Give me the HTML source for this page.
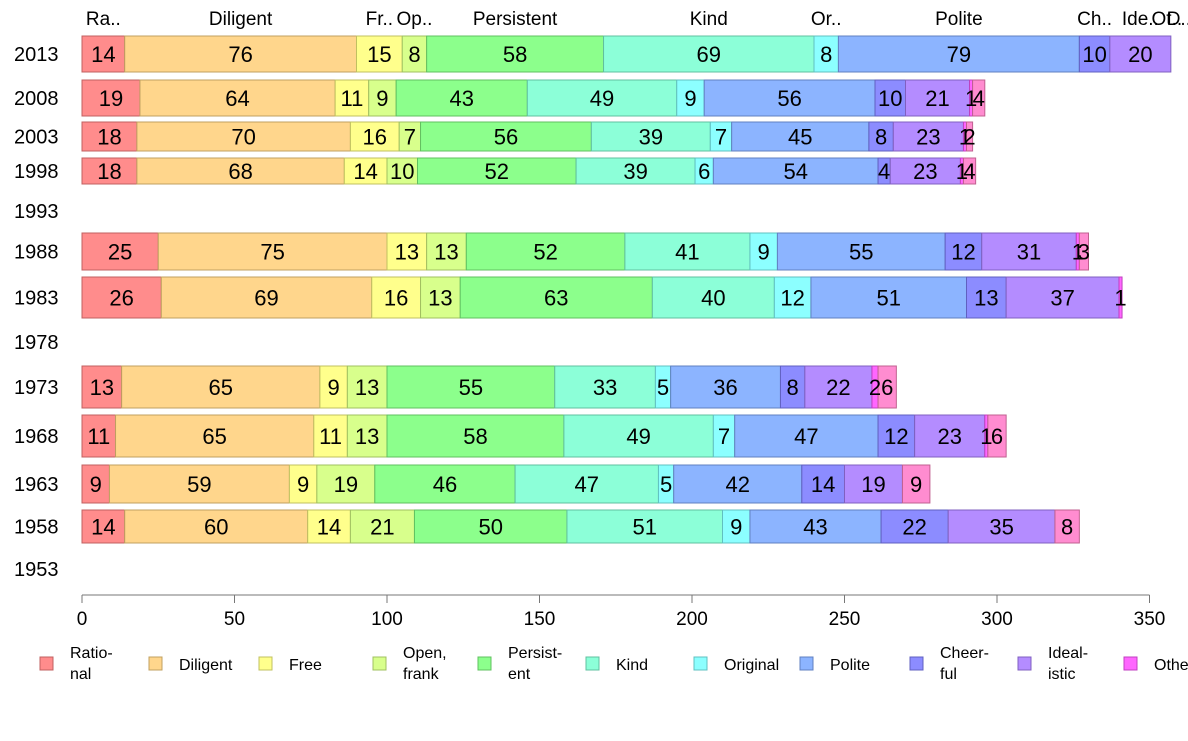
<!DOCTYPE html>
<html><head><meta charset="utf-8"><style>
body{margin:0;background:#fff;font-family:"Liberation Sans",Arial,sans-serif}
svg text{font-family:"Liberation Sans",Arial,sans-serif}
</style></head><body>
<svg id="c" width="1188" height="736"></svg>
<script>
const years=["2013","2008","2003","1998","1993","1988","1983","1978","1973","1968","1963","1958","1953"];
const categories=["Rational","Diligent","Free","Open, frank","Persistent","Kind","Original","Polite","Cheerful","Idealistic","Other","DK"];
const topLabels=["Ra..","Diligent","Fr..","Op..","Persistent","Kind","Or..","Polite","Ch..","Ide..","Ot..","D.."];
const v2013=[14,76,15,8,58,69,8,79,10,20,0,0];
const v2008=[19,64,11,9,43,49,9,56,10,21,1,4];
const v2003=[18,70,16,7,56,39,7,45,8,23,1,2];
const v1998=[18,68,14,10,52,39,6,54,4,23,1,4];
const v1993=null;
const v1988=[25,75,13,13,52,41,9,55,12,31,1,3];
const v1983=[26,69,16,13,63,40,12,51,13,37,1,0];
const v1978=null;
const v1973=[13,65,9,13,55,33,5,36,8,22,2,6];
const v1968=[11,65,11,13,58,49,7,47,12,23,1,6];
const v1963=[9,59,9,19,46,47,5,42,14,19,0,9];
const v1958=[14,60,14,21,50,51,9,43,22,35,0,8];
const v1953=null;
const seriesByYear=[v2013,v2008,v2003,v1998,v1993,v1988,v1983,v1978,v1973,v1968,v1963,v1958,v1953];
const xTicks=[0,50,100,150,200,250,300,350];

const fills=["#ff8c8c","#ffd68c","#ffff8c","#d8ff8c","#8cff8c","#8cffd8","#8cffff","#8cb4ff","#8c8cff","#b48cff","#ff66ff","#ff8cd0"];
const strokes=["#c06060","#c0a060","#c0c060","#a0c060","#60c060","#60c0a0","#60c0c0","#6080c0","#6060c0","#8060c0","#c040c0","#c06090"];
// layout: bar top/bottom per row (pixels)
const bands=[[36,72],[80,116],[122,151],[158,184],[194,228],[233,270],[277,318],[324,360],[366,408],[415,457],[465,503],[510,543],[552,586]];
const X0=82,PX=3.05;
const x=v=>X0+v*PX;
const svg=document.getElementById('c');
const NS="http://www.w3.org/2000/svg";
function mk(t,a,txt){const e=document.createElementNS(NS,t);for(const k in a)e.setAttribute(k,a[k]);if(txt!=null)e.textContent=txt;svg.appendChild(e);return e;}

years.forEach((y,i)=>{
  const [t,b]=bands[i];const cy=(t+b)/2;
  const yl=mk('text',{x:14,y:cy+7,'font-size':20,fill:'#000'},y);
  
  
  const vals=seriesByYear[i];if(!vals)return;
  let cum=0;
  vals.forEach((v,j)=>{
    const x1=x(cum),x2=x(cum+v);
    if(v>0){
      const r=mk('rect',{x:x1,y:t,width:x2-x1,height:b-t,fill:fills[j],stroke:strokes[j],'stroke-width':1});
      
      
    }
    if(i===0){
      const tl=mk('text',{x:(x1+x2)/2+(v===0?(j===10?-4:8):0),y:25,'font-size':19,'text-anchor':'middle',fill:'#000'},topLabels[j]);
      
      
    }
    cum+=v;
  });
  cum=0;
  vals.forEach((v,j)=>{
    const x1=x(cum),x2=x(cum+v);cum+=v;
    if(v<=0)return;
    const lt=mk('text',{x:(x1+x2)/2,y:cy+8,'font-size':22,'text-anchor':'middle',fill:'#000'},String(v));
    
    
  });
});

const ax=mk('line',{x1:x(0),y1:595,x2:x(350),y2:595,stroke:'#777','stroke-width':1});


xTicks.forEach(tv=>{
  const tk=mk('line',{x1:x(tv),y1:595,x2:x(tv),y2:603,stroke:'#777'});
  
  
  const tl=mk('text',{x:x(tv),y:625,'font-size':19,'text-anchor':'middle',fill:'#000'},String(tv));
  
  
});

const legX=[40,149,259,373,478,586,694,800,910,1018,1124];
const legText=[["Ratio-","nal"],["Diligent"],["Free"],["Open,","frank"],["Persist-","ent"],["Kind"],["Original"],["Polite"],["Cheer-","ful"],["Ideal-","istic"],["Othe"]];
legX.forEach((lx,j)=>{
  const g=document.createElementNS(NS,'g');svg.appendChild(g);
  
  
  const r=document.createElementNS(NS,'rect');
  r.setAttribute('x',lx);r.setAttribute('y',657);r.setAttribute('width',13);r.setAttribute('height',13);
  r.setAttribute('fill',fills[j]);r.setAttribute('stroke',strokes[j]);g.appendChild(r);
  const lines=legText[j];
  lines.forEach((s,k)=>{
    const t=document.createElementNS(NS,'text');
    t.setAttribute('x',lx+30);
    t.setAttribute('y',lines.length===1?670:658+k*21);
    t.setAttribute('font-size',16);t.textContent=s;g.appendChild(t);
  });
});
</script>
</body></html>
